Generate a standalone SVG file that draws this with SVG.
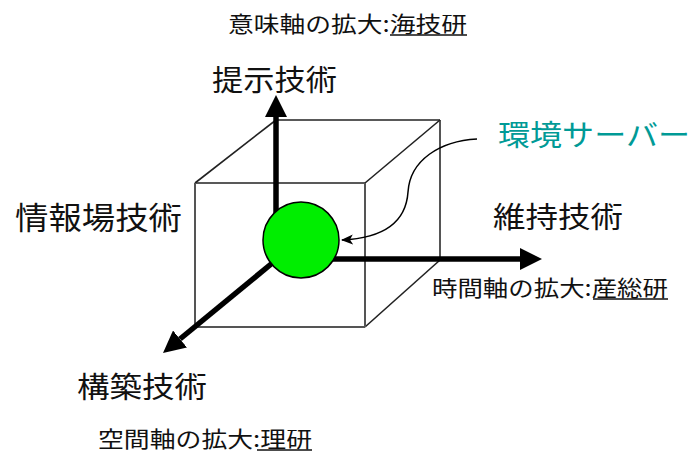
<svg xmlns="http://www.w3.org/2000/svg" width="691" height="452" viewBox="0 0 691 452">
<style>
.big{font-family:"Noto Sans CJK JP","Noto Sans CJK SC",sans-serif;font-size:29px;fill:#111}
.small{font-family:"Noto Sans CJK JP","Noto Sans CJK SC",sans-serif;font-size:22px;fill:#111}
.teal{fill:#009a96}
.edge{stroke:#222;stroke-width:1.6;fill:none}
.edgeg{stroke:#555;stroke-width:2;fill:none}
.axis{stroke:#000;stroke-width:5.5;fill:none;marker-end:url(#bigHead)}
.ul{stroke:#111;stroke-width:1.5}
</style>
<defs>
<marker id="bigHead" markerUnits="userSpaceOnUse" markerWidth="22" markerHeight="22" viewBox="0 0 22 22" refX="0" refY="11" orient="auto">
<path d="M0,0 L22,11 L0,22 Z" fill="#000"/>
</marker>
<marker id="smallHead" markerUnits="userSpaceOnUse" markerWidth="12" markerHeight="10" viewBox="0 0 12 10" refX="11" refY="5" orient="auto">
<path d="M0,0 L12,5 L0,10 L3,5 Z" fill="#000"/>
</marker>
</defs>
<g id="cube">
<line class="edge" x1="276" y1="120" x2="440" y2="120"/>
<line class="edgeg" x1="440" y1="120" x2="440" y2="260"/>
<line class="edge" x1="195" y1="183" x2="276" y2="120"/>
<line class="edge" x1="365" y1="183" x2="440" y2="120"/>
<line class="edge" x1="365" y1="327" x2="440" y2="260"/>
<line class="edge" x1="195" y1="183" x2="365" y2="183"/>
<line class="edgeg" x1="195" y1="183" x2="195" y2="327"/>
<line class="edgeg" x1="365" y1="183" x2="365" y2="327"/>
<line class="edgeg" x1="195" y1="327" x2="365" y2="327"/>
</g>
<g id="connectors">
<line class="axis" x1="276" y1="260" x2="276" y2="117"/>
<line class="axis" x1="276" y1="259" x2="520" y2="259"/>
<line class="axis" x1="276" y1="260" x2="180" y2="339"/>
<path d="M477,139 C440,141 410,160 408,192 C406,222 385,238 342,240" fill="none" stroke="#000" stroke-width="1.5" marker-end="url(#smallHead)"/>
</g>
<g id="server">
<circle cx="301" cy="240" r="38" fill="#00ee00" stroke="#000" stroke-width="1.5"/>
</g>
<g id="label-server">
<text class="big teal" x="498" y="146" textLength="192" lengthAdjust="spacingAndGlyphs">環境サーバー</text>
</g>
<g id="node-teiji">
<text class="big" x="212" y="91" textLength="125" lengthAdjust="spacingAndGlyphs">提示技術</text>
</g>
<g id="node-johoba">
<text class="big" x="15" y="229" style="font-size:31px" textLength="167" lengthAdjust="spacingAndGlyphs">情報場技術</text>
</g>
<g id="node-iji">
<text class="big" x="493" y="228" textLength="130" lengthAdjust="spacingAndGlyphs">維持技術</text>
</g>
<g id="node-kochiku">
<text class="big" x="77" y="398" textLength="130" lengthAdjust="spacingAndGlyphs">構築技術</text>
</g>
<g id="note-imi">
<text class="small" x="228" y="32" textLength="239" lengthAdjust="spacingAndGlyphs">意味軸の拡大:海技研</text>
<line class="ul" x1="390" y1="35" x2="467" y2="35"/>
</g>
<g id="note-jikan">
<text class="small" x="432" y="296" textLength="236" lengthAdjust="spacingAndGlyphs">時間軸の拡大:産総研</text>
<line class="ul" x1="593" y1="299" x2="668" y2="299"/>
</g>
<g id="note-kukan">
<text class="small" x="98" y="447" textLength="214" lengthAdjust="spacingAndGlyphs">空間軸の拡大:理研</text>
<line class="ul" x1="257" y1="450" x2="312" y2="450"/>
</g>
</svg>
